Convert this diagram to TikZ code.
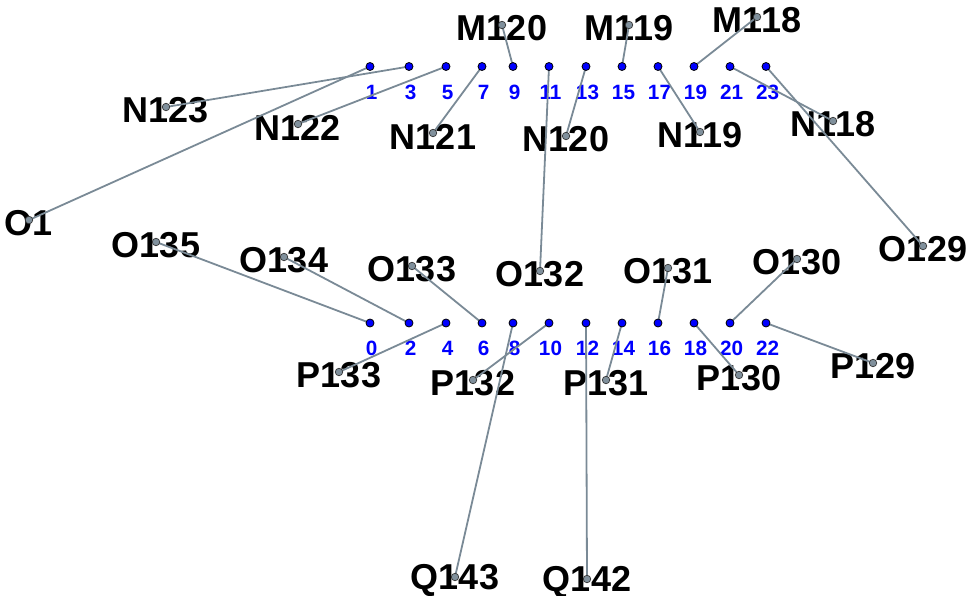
\documentclass[tikz,border=0pt]{standalone}
\usepackage{fontspec}
\setmainfont{Liberation Sans}
\definecolor{wire}{RGB}{122,138,150}
\definecolor{enddot}{RGB}{128,144,156}
\definecolor{pinblue}{RGB}{0,0,255}
\tikzset{
  bigtext/.style={font=\fontsize{36}{40}\selectfont\bfseries, inner sep=0pt, anchor=center},
  pintext/.style={font=\fontsize{20.7}{24}\selectfont\bfseries, text=pinblue, inner sep=0pt, anchor=center},
  wireline/.style={draw=wire, line width=1.8pt},
  pindot/.style={circle, fill=pinblue, draw=black, line width=0.8pt, minimum size=8pt, inner sep=0pt},
  enddotst/.style={circle, fill=enddot, draw=black!80, line width=0.7pt, minimum size=7.5pt, inner sep=0pt}
}
\begin{document}
\begin{tikzpicture}[x=1pt,y=-1pt]
\useasboundingbox (0,0) rectangle (973,596);
% endpoint coordinates
\foreach \n/\x/\y in {M120/502/25, M119/629/25, M118/757/17,
  N123/166/107, N122/298/124, N121/433/133, N120/566/136, N119/700/132, N118/833/121,
  O1/29/220, O129/923/246,
  O135/156/242, O134/284/257, O133/412/266, O132/540/271, O131/668/268, O130/797/259,
  P133/339/372, P132/473/380, P131/606/380, P130/739/375, P129/873/363,
  Q143/455/577, Q142/587/579}
  {\coordinate (\n) at (\x,\y);
   \node[bigtext] (t\n) at (\x,\y+3.5) {\n};}
% pins
\foreach \i/\x in {1/370, 3/409, 5/446, 7/482, 9/513, 11/549, 13/586, 15/622, 17/658, 19/694, 21/730, 23/766}
  {\coordinate (p\i) at (\x,66.5);
   \node[pintext] (l\i) at (\x+1.5,92) {\i};}
\foreach \i/\x in {0/370, 2/409, 4/446, 6/482, 8/513, 10/549, 12/586, 14/622, 16/658, 18/694, 20/730, 22/766}
  {\coordinate (p\i) at (\x,323);
   \node[pintext] (l\i) at (\x+1.5,348) {\i};}
% wires
\foreach \a/\b in {O1/p1, N123/p3, N122/p5, N121/p7, M120/p9, O132/p11, N120/p13, M119/p15, N119/p17, M118/p19, N118/p21, O129/p23,
  O135/p0, O134/p2, P133/p4, O133/p6, Q143/p8, P132/p10, Q142/p12, P131/p14, O131/p16, P130/p18, O130/p20, P129/p22}
  {\draw[wireline] (\a) -- (\b);}
% dots
\foreach \n in {M120, M119, M118, N123, N122, N121, N120, N119, N118, O1, O129,
  O135, O134, O133, O132, O131, O130, P133, P132, P131, P130, P129, Q143, Q142}
  {\node[enddotst] (d\n) at (\n) {};}
\foreach \i in {0,...,23}
  {\node[pindot] (dp\i) at (p\i) {};}
\end{tikzpicture}
\end{document}
